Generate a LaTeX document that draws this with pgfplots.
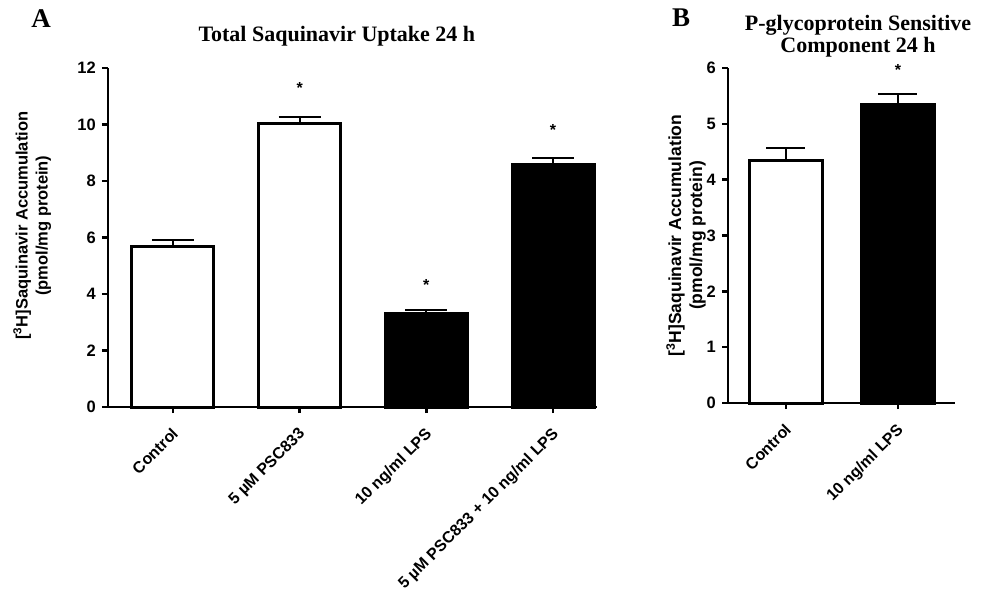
\documentclass[border=0pt]{standalone}
\usepackage{fontspec}
\setmainfont{Liberation Serif}
\setsansfont{Liberation Sans}
\usepackage{pgfplots}
\pgfplotsset{compat=1.18}
\begin{document}
\begin{tikzpicture}[x=1pt,y=1pt]
\useasboundingbox (0,0) rectangle (982,600);
\pgfplotsset{
  gp/.style={
    scale only axis,
    anchor=south west,
    axis x line*=bottom,
    axis y line*=left,
    axis line style={line width=2.8pt},
    every tick/.style={black, line width=2.6pt},
    major tick length=6pt,
    tick align=outside,
    /pgf/number format/assume math mode=true,
    yticklabel style={font=\sffamily\bfseries\fontsize{16.5}{19}\selectfont, inner sep=2pt, xshift=-4pt},
    xticklabel style={font=\sffamily\bfseries\fontsize{16}{19}\selectfont, rotate=45, anchor=north east, inner sep=1pt, xshift=-10pt, yshift=-7pt},
    ymin=0,
    clip=false,
    title style={font=\rmfamily\bfseries\fontsize{22}{22}\selectfont, align=center, anchor=center},
    every axis y label/.style={rotate=90, anchor=center, align=center,
      font=\sffamily\bfseries\fontsize{16.5}{20}\selectfont},
  },
  wbar/.style={ybar, fill=white, draw=black, line width=3pt},
  kbar/.style={ybar, fill=black, draw=black, line width=3pt},
}
\begin{axis}[gp,
  at={(108pt,193pt)}, width=489pt, height=339pt,
  xmin=-0.513, xmax=3.347, ymax=12,
  xtick={0,1,2,3},
  xticklabels={Control, 5 µM PSC833, 10 ng/ml LPS, 5 µM PSC833 + 10 ng/ml LPS},
  ytick={0,2,4,6,8,10,12},
  title={Total Saquinavir Uptake 24 h},
  title style={at={(axis description cs:0.468,1.076)}},
  ylabel={[\textsuperscript{3}H]Saquinavir Accumulation\\(pmol/mg protein)},
  ylabel style={at={(axis description cs:-0.155,0.535)}},
]
\addplot[wbar, bar width=82pt,
  error bars/.cd, y dir=plus, y explicit,
  error bar style={line width=2pt, black},
  error mark options={rotate=90, mark size=21pt, line width=2pt, black}]
  coordinates {(0,5.68) +- (0,0.24) (1,10.05) +- (0,0.22)};
\addplot[kbar, bar width=82pt,
  error bars/.cd, y dir=plus, y explicit,
  error bar style={line width=2pt, black},
  error mark options={rotate=90, mark size=21pt, line width=2pt, black}]
  coordinates {(2,3.30) +- (0,0.12) (3,8.60) +- (0,0.21)};
\node[font=\sffamily\bfseries\fontsize{16}{19}\selectfont] at (axis cs:1,11.3) {*};
\node[font=\sffamily\bfseries\fontsize{16}{19}\selectfont] at (axis cs:2,4.32) {*};
\node[font=\sffamily\bfseries\fontsize{16}{19}\selectfont] at (axis cs:3,9.8) {*};
\end{axis}
\begin{axis}[gp,
  at={(728pt,197pt)}, width=227pt, height=335pt,
  xmin=-0.518, xmax=1.51, ymax=6,
  xtick={0,1},
  xticklabels={Control, 10 ng/ml LPS},
  ytick={0,1,2,3,4,5,6},
  title={P-glycoprotein Sensitive\\Component 24 h},
  title style={at={(axis description cs:0.573,1.077)}},
  ylabel={[\textsuperscript{3}H]Saquinavir Accumulation\\(pmol/mg protein)},
  ylabel style={at={(axis description cs:-0.185,0.5)}, font=\sffamily\bfseries\fontsize{17.5}{21}\selectfont},
]
\addplot[wbar, bar width=73pt,
  error bars/.cd, y dir=plus, y explicit,
  error bar style={line width=2pt, black},
  error mark options={rotate=90, mark size=19.5pt, line width=2pt, black}]
  coordinates {(0,4.35) +- (0,0.22)};
\addplot[kbar, bar width=73pt,
  error bars/.cd, y dir=plus, y explicit,
  error bar style={line width=2pt, black},
  error mark options={rotate=90, mark size=19.5pt, line width=2pt, black}]
  coordinates {(1,5.34) +- (0,0.20)};
\node[font=\sffamily\bfseries\fontsize{16}{19}\selectfont] at (axis cs:1,5.97) {*};
\end{axis}
\node[font=\rmfamily\bfseries\fontsize{27}{30}\selectfont] at (41,581) {A};
\node[font=\rmfamily\bfseries\fontsize{27}{30}\selectfont] at (681,582) {B};
\end{tikzpicture}
\end{document}
